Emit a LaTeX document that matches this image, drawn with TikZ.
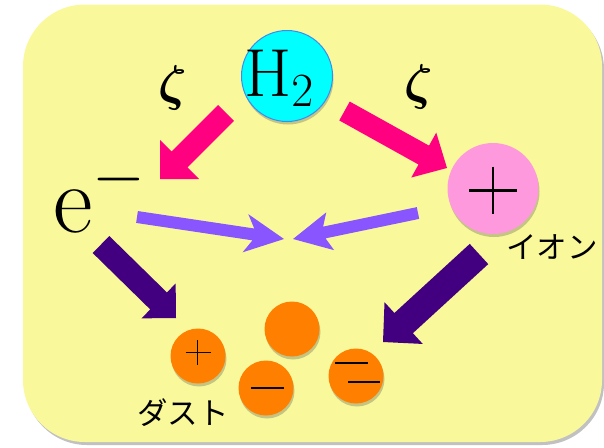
\RequirePackage{fix-cm}
\documentclass[tikz,border=0pt]{standalone}
\usepackage{fontspec}
\newfontfamily\jpfont{Noto Sans CJK JP}
\usetikzlibrary{calc,shadows}
\definecolor{bgyellow}{RGB}{249,249,155}
\definecolor{arrpink}{RGB}{255,0,128}
\definecolor{arrlav}{RGB}{136,85,255}
\definecolor{arrpurple}{RGB}{66,0,128}
\definecolor{hcyan}{RGB}{0,255,255}
\definecolor{hborder}{RGB}{60,140,240}
\definecolor{ionpink}{RGB}{255,153,221}
\definecolor{dustorange}{RGB}{255,128,0}
% #1 colour, #2 tail, #3 tip, #4 shaft half width, #5 head half width, #6 head length, #7 join distance from tip
\newcommand{\blockarr}[7]{%
  \fill[#1] ($(#2)!#4!90:(#3)$) -- ($(#3)!#7!(#2)!#4!-90:(#2)$) -- ($(#3)!#6!(#2)!#5!-90:(#2)$)
    -- (#3) -- ($(#3)!#6!(#2)!#5!90:(#2)$) -- ($(#3)!#7!(#2)!#4!90:(#2)$) -- ($(#2)!#4!-90:(#3)$) -- cycle;}
\tikzset{
  softshadow/.style={drop shadow={shadow xshift=1pt, shadow yshift=-3pt, opacity=0.3, fill=black!70}},
  ball/.style={circle, inner sep=0pt, minimum size=#1, softshadow},
  dust/.style={ball=55pt, fill=dustorange},
  sign/.style={line width=1.8pt, black},
  jplabel/.style={font=\jpfont\fontsize{30.5}{30.5}\selectfont, inner sep=0pt},
  zetalbl/.style={inner sep=0pt, anchor=base, font=\fontsize{50}{50}\selectfont\boldmath},
}
\begin{document}
\begin{tikzpicture}[x=1pt, y=-1pt]
\useasboundingbox (0,0) rectangle (604,447);
% background card
\node[draw=none, fill=bgyellow, rounded corners=62pt, minimum width=579pt, minimum height=437.5pt, inner sep=0pt,
  drop shadow={shadow xshift=2pt, shadow yshift=-3pt, opacity=0.35, fill=black!70}] (card) at (312.5,223.25) {};

% arrow end points
\coordinate (pLt) at (226,113);   \coordinate (pLh) at (160,179);
\coordinate (pRt) at (344.5,111); \coordinate (pRh) at (447,168);
\coordinate (vLt) at (137,217);   \coordinate (vLh) at (284,239);
\coordinate (vRt) at (418,213);   \coordinate (vRh) at (293,239);
\coordinate (dLt) at (101,244.5); \coordinate (dLh) at (176,318);
\coordinate (dRt) at (479,254);   \coordinate (dRh) at (383,342);

\blockarr{arrpink}{pLt}{pLh}{11.3pt}{27.6pt}{27.6pt}{27.6pt}
\blockarr{arrpink}{pRt}{pRh}{10.8pt}{25.7pt}{26.6pt}{26.6pt}
\blockarr{arrlav}{vLt}{vLh}{6pt}{19.3pt}{39pt}{31pt}
\blockarr{arrlav}{vRt}{vRh}{6pt}{19.3pt}{38pt}{32pt}
\blockarr{arrpurple}{dLt}{dLh}{11.9pt}{24.4pt}{24.4pt}{24.4pt}
\blockarr{arrpurple}{dRt}{dRh}{13.7pt}{28.3pt}{28pt}{28pt}

% H2
\node[ball=91pt, fill=hcyan, draw=hborder, line width=1pt] (h2) at (287,76) {};
\node[inner sep=0pt, anchor=base west] (h2t) at (244,96.7) {\fontsize{68}{68}\selectfont$\mathrm{H}_2$};

% ion
\node[ball=91pt, fill=ionpink] (ion) at (493,188.5) {};
\draw[line width=2.6pt] ($(ion)+(-24,2)$) -- ($(ion)+(24,2)$);
\draw[line width=2.6pt] ($(ion)+(0,-21.8)$) -- ($(ion)+(0,25.5)$);
\node[jplabel] (ionlbl) at (552,247) {イオン};

% electron
\node[inner sep=0pt, anchor=base west] (el) at (53,232) {\fontsize{97}{97}\selectfont$\mathrm{e}^{-}$};

% zeta labels
\node[zetalbl] (z1) at (173,100) {$\zeta$};
\node[zetalbl] (z2) at (419,99) {$\zeta$};

% dust
\node[dust] (d1) at (198,356) {};
\node[dust] (d2) at (292,329) {};
\node[dust] (d3) at (266,388) {};
\node[dust] (d4) at (356,376) {};
\draw[sign] ($(d1)+(-12.5,-3.5)$) -- ($(d1)+(12.5,-3.5)$);
\draw[sign] ($(d1)+(-0.5,-16)$) -- ($(d1)+(-0.5,9)$);
\draw[sign] ($(d3)+(-15,0)$) -- ($(d3)+(18,0)$);
\draw[sign] ($(d4)+(-21,-13)$) -- ($(d4)+(12,-13)$);
\draw[sign] ($(d4)+(-8,6)$) -- ($(d4)+(24,6)$);
\node[jplabel] (dustlbl) at (183,412.5) {ダスト};
\end{tikzpicture}
\end{document}
